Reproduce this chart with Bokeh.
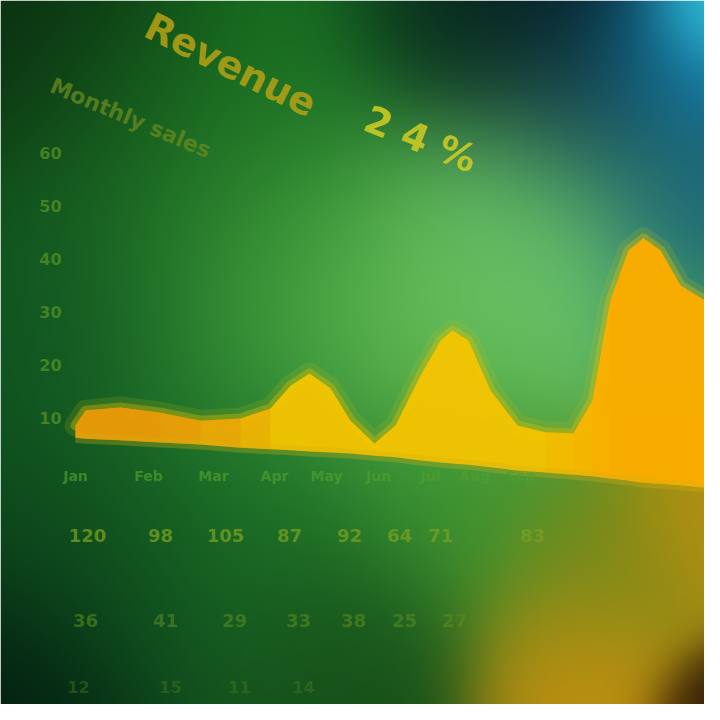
import numpy as np
from bokeh.plotting import figure
from bokeh.models import Range1d, Label
from bokeh.embed import file_html
from bokeh.resources import INLINE
from bokeh.core.properties import value

# ---------------- data ----------------
x_vals = [1.5, 1.7, 2.4, 3.2, 4.0, 4.8, 5.4, 5.8, 6.18, 6.6, 7.0, 7.48, 7.9, 8.4,
          8.8, 9.04, 9.36, 9.8, 10.34, 10.9, 11.46, 11.84, 12.2, 12.56, 12.86,
          13.2, 13.6, 14.08]
y_vals = [8.5, 11.3, 11.9, 10.9, 9.4, 9.8, 11.7, 16.0, 18.3, 15.5, 9.4, 5.1, 8.5,
          17.9, 24.5, 26.4, 24.5, 15.1, 8.5, 7.2, 7.0, 13.2, 32.1, 41.5, 43.8,
          41.5, 34.9, 32.1]
base_vals = [6.2, 6.0, 5.7, 5.3, 4.9, 4.3, 4.0, 3.8, 3.6, 3.4, 3.2, 2.8, 2.5, 1.9,
             1.5, 1.3, 1.1, 0.6, 0.0, -0.4, -0.8, -1.1, -1.5, -1.9, -2.3, -2.5,
             -2.8, -3.2]

y_ticks = [10, 20, 30, 40, 50, 60]
y_tick_labels = ["10", "20", "30", "40", "50", "60"]

row1_x = [1.5, 2.96, 4.26, 5.48, 6.52, 7.56, 8.6, 9.48, 10.4]
row1_labels = ["Jan", "Feb", "Mar", "Apr", "May", "Jun", "Jul", "Aug", "Sep"]
row2_x = [1.74, 3.2, 4.5, 5.78, 6.98, 7.98, 8.8, 10.64]
row2_labels = ["120", "98", "105", "87", "92", "64", "71", "83"]
row3_x = [1.7, 3.3, 4.68, 5.96, 7.06, 8.08, 9.08]
row3_labels = ["36", "41", "29", "33", "38", "25", "27"]
row4_x = [1.56, 3.4, 4.78, 6.06]
row4_labels = ["12", "15", "11", "14"]

title_text = "Revenue"
highlight_text = "2 4 %"
subtitle_text = "Monthly sales"

# ---------------- figure ----------------
W, H = 704, 704
PX_PER_X = 50.0
PX_PER_Y = 5.3
BASE_PY = 470
x_end = W / PX_PER_X
y_top = BASE_PY / PX_PER_Y
y_bot = (BASE_PY - H) / PX_PER_Y

p = figure(width=W, height=H, output_backend="svg", toolbar_location=None,
           x_range=Range1d(0, x_end), y_range=Range1d(y_bot, y_top),
           min_border=0, min_border_left=0, min_border_right=0,
           min_border_top=0, min_border_bottom=0)
p.axis.visible = False
p.outline_line_color = None
p.border_fill_color = "#0a3a18"
p.grid.visible = False

# ---------------- background glow (decoration) ----------------
anchors = [
    # (px, py, radius, colour)
    (20, 20, 140, "#0a2a10"),
    (150, 120, 150, "#14601c"),
    (320, 60, 130, "#177020"),
    (430, 15, 80, "#04201a"),
    (520, 40, 110, "#041822"),
    (610, 100, 100, "#07385a"),
    (690, 60, 80, "#1890c0"),
    (716, 10, 50, "#40e0f5"),
    (690, 200, 90, "#15607a"),
    (540, 220, 130, "#66c070"),
    (430, 290, 150, "#6ac058"),
    (250, 260, 150, "#3c9c38"),
    (60, 300, 140, "#0e5020"),
    (690, 340, 70, "#3a9060"),
    (460, 500, 110, "#3e9430"),
    (250, 520, 150, "#1d7428"),
    (100, 600, 140, "#0b421a"),
    (10, 710, 100, "#021810"),
    (340, 660, 110, "#164c18"),
    (600, 560, 90, "#7a8818"),
    (580, 670, 90, "#c09010"),
    (700, 520, 70, "#b89010"),
    (712, 712, 50, "#2a1505"),
]
cols = np.arange(W)
rows = np.arange(H)
PX, PY = np.meshgrid(cols, rows)
acc = np.zeros((H, W, 3))
wsum = np.zeros((H, W)) + 1e-12
for ax_, ay_, r, c in anchors:
    rgb = np.array([int(c[i:i + 2], 16) for i in (1, 3, 5)], dtype=float)
    w = np.exp(-(((PX - ax_) ** 2 + (PY - ay_) ** 2) / (r * r)))
    acc += w[..., None] * rgb
    wsum += w
rgb_img = acc / wsum[..., None]
img = np.empty((H, W), dtype=np.uint32)
view = img.view(dtype=np.uint8).reshape((H, W, 4))
view[..., :3] = np.clip(rgb_img[::-1], 0, 255).astype(np.uint8)
view[..., 3] = 255
p.image_rgba(image=[img], x=0, y=y_bot, dw=x_end, dh=y_top - y_bot)

# ---------------- area chart ----------------
p.line(x_vals, y_vals, line_color="#c8c010", line_width=22, line_alpha=0.16,
       line_join="round", line_cap="round")
p.line(x_vals, y_vals, line_color="#e8c000", line_width=10, line_alpha=0.35,
       line_join="round", line_cap="round")
p.varea(x=x_vals, y1=base_vals, y2=y_vals, fill_color="#f6c400", fill_alpha=0.95)
# soft orange tint on the left plateau (stepped to fade out)
for n, a in ((7, 0.22), (6, 0.22), (5, 0.2), (4, 0.15)):
    p.varea(x=x_vals[:n], y1=base_vals[:n], y2=y_vals[:n], fill_color="#e07e10",
            fill_alpha=a)
# orange tint on the big right peak (stepped to fade in)
for n, a in ((9, 0.2), (8, 0.22), (7, 0.25), (6, 0.2)):
    p.varea(x=x_vals[-n:], y1=base_vals[-n:], y2=y_vals[-n:], fill_color="#ffa000",
            fill_alpha=a)
p.line(x_vals, base_vals, line_color="#d8b010", line_width=10, line_alpha=0.3)

# ---------------- y tick labels ----------------
p.text(x=[1.0] * len(y_ticks), y=y_ticks, text=y_tick_labels, text_color="#4f8a22",
       text_alpha=0.85, text_font=value("DejaVu Sans"), text_font_style="bold",
       text_font_size="16px", text_align="center", text_baseline="middle")

# ---------------- table-like rows of labels ----------------
def text_row(xs, labels, yv, color, size, alpha):
    p.text(x=xs, y=[yv] * len(xs), text=labels, text_color=color, text_alpha=alpha,
           text_font=value("DejaVu Sans"), text_font_style="bold",
           text_font_size=size, text_align="center", text_baseline="middle")

text_row(row1_x, row1_labels, -1.0, "#4fa030", "14px", 0.7)
text_row(row2_x, row2_labels, -12.3, "#7a9f20", "18px", 0.75)
text_row(row3_x, row3_labels, -28.3, "#5a8a20", "18px", 0.6)
text_row(row4_x, row4_labels, -40.8, "#4a7a20", "16px", 0.45)

# ---------------- titles ----------------
p.add_layout(Label(x=4.6, y=76.5, text=title_text, angle=-0.46, text_align="center",
                   text_baseline="middle", text_font="DejaVu Sans", text_font_style="bold",
                   text_font_size="38px", text_color="#b3a016", text_alpha=0.9))
p.add_layout(Label(x=8.4, y=62.5, text=highlight_text, angle=-0.38, text_align="center",
                   text_baseline="middle", text_font="DejaVu Sans", text_font_style="bold",
                   text_font_size="38px", text_color="#cfcc22", text_alpha=0.9))
p.add_layout(Label(x=2.6, y=66.5, text=subtitle_text, angle=-0.40, text_align="center",
                   text_baseline="middle", text_font="DejaVu Sans", text_font_style="bold",
                   text_font_size="22px", text_color="#6a8a20", text_alpha=0.75))

open("out.html", "w").write(file_html(p, INLINE))
